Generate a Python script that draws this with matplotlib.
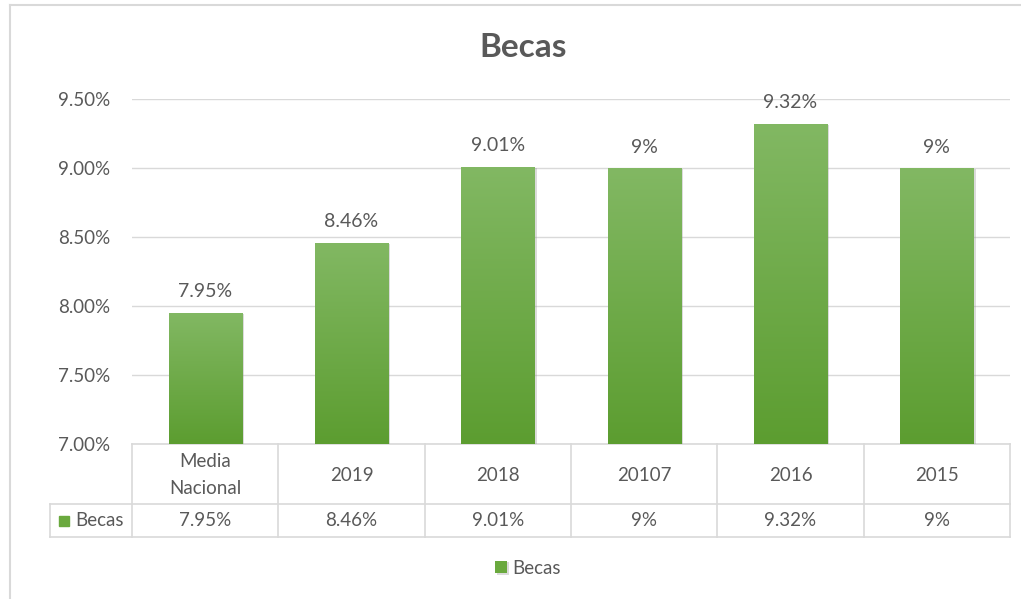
import numpy as np
import matplotlib.pyplot as plt
from matplotlib import patheffects as pe
from matplotlib.patches import Rectangle
from matplotlib.colors import LinearSegmentedColormap
from matplotlib.ticker import FuncFormatter
import matplotlib.transforms as mtransforms

plt.rcParams['font.family'] = ['Lato', 'DejaVu Sans']

categories = ["Media\nNacional", "2019", "2018", "20107", "2016", "2015"]
values = [7.95, 8.46, 9.01, 9.00, 9.32, 9.00]
labels = ["7.95%", "8.46%", "9.01%", "9%", "9.32%", "9%"]
series_name = "Becas"
title = "Becas"

W, H = 1021, 599
txt = "#595959"
grid = "#d9d9d9"
green = "#6aa93e"

fig = plt.figure(figsize=(W / 100, H / 100), dpi=100)
L, R, T, B = 132, 1010, 99, 444
ax = fig.add_axes([L / W, 1 - B / H, (R - L) / W, (B - T) / H])

# chart border (left / top)
fig.add_artist(plt.Line2D([10 / W, 10 / W], [0, 1 - 5 / H], color=grid, lw=1.5))
fig.add_artist(plt.Line2D([10 / W, 1], [1 - 5 / H, 1 - 5 / H], color=grid, lw=1.5))

x = np.arange(len(values)) + 0.5
bars = ax.bar(x, np.array(values) - 7.0, bottom=7.0, width=0.5, color=green, zorder=3)
cmap = LinearSegmentedColormap.from_list("g", ["#5c9d30", "#82b863"])
for b in bars:
    b.set_path_effects([pe.SimplePatchShadow(offset=(1.5, -1), shadow_rgbFace="#999999", alpha=0.35), pe.Normal()])
    x0, y0 = b.get_x(), b.get_y()
    grad = np.linspace(0, 1, 256).reshape(-1, 1)
    im = ax.imshow(grad, extent=[x0, x0 + b.get_width(), y0, y0 + b.get_height()],
                   cmap=cmap, aspect="auto", origin="lower", zorder=4)
    im.set_clip_path(b)

ax.bar_label(bars, labels=labels, padding=9, fontsize=14, color=txt)

ax.set_xlim(0, len(values))
ax.set_ylim(7.0, 9.5)
ax.set_yticks([7.0, 7.5, 8.0, 8.5, 9.0, 9.5])
ax.yaxis.set_major_formatter(FuncFormatter(lambda v, p: f"{v:.2f}%"))
ax.tick_params(axis="y", length=0, pad=15.5, labelsize=13.5, labelcolor=txt)
ax.set_xticks([])
for s in ax.spines.values():
    s.set_visible(False)
ax.yaxis.grid(True, color=grid, lw=1)
ax.set_axisbelow(True)

# data table
tb = mtransforms.blended_transform_factory(ax.transData, ax.transAxes)
h_head = 60 / (B - T)
h_row = 93 / (B - T)
n = len(values)
lab_x = (50 - L) / (R - L) * n
kw = dict(transform=tb, color=grid, lw=1.2, clip_on=False)
ax.plot([0, n], [0, 0], **kw)
for i in range(n + 1):
    ax.plot([i, i], [0, -h_row], **kw)
ax.plot([lab_x, lab_x], [-h_head, -h_row], **kw)
ax.plot([lab_x, n], [-h_head, -h_head], **kw)
ax.plot([lab_x, n], [-h_row, -h_row], **kw)
for xi, c, l in zip(x, categories, labels):
    ax.text(xi, -h_head / 2 - 0.003, c, transform=tb, ha="center", va="center", fontsize=13.5, color=txt,
            linespacing=1.65)
    ax.text(xi, -(h_head + h_row) / 2, l, transform=tb, ha="center", va="center", fontsize=13.5, color=txt)
ax.add_patch(Rectangle((59 / W, 1 - 526 / H), 10 / W, 10 / H, transform=fig.transFigure,
                       color=green, clip_on=False))
fig.text(75 / W, 1 - 521 / H, series_name, ha="left", va="center", fontsize=13.5, color=txt)

fig.text(523 / W, 1 - 47.5 / H, title, ha="center", va="center", fontsize=24, fontweight="bold", color=txt)

fig.legend(handles=[bars], labels=[series_name], loc="center", bbox_to_anchor=(528 / W, 1 - 568 / H),
           frameon=False, fontsize=13.5, labelcolor=txt, handlelength=0.65, handleheight=0.65,
           handletextpad=0.3)

fig.savefig("out.png", dpi=100, facecolor="white")
